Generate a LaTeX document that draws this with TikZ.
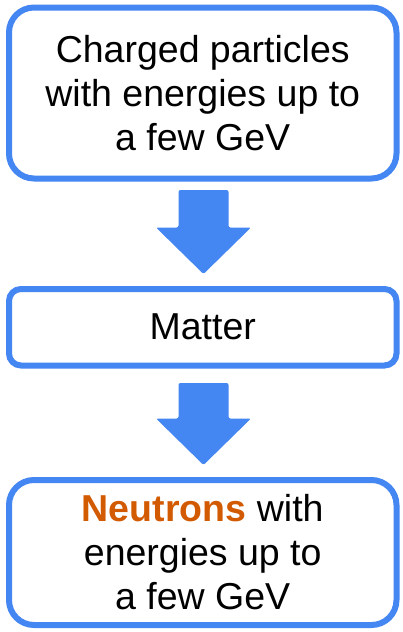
\documentclass[tikz,border=0pt]{standalone}
\usepackage{fontspec}
\setmainfont{Liberation Sans}
\usetikzlibrary{calc}
\definecolor{boxblue}{RGB}{68,134,242}
\definecolor{neutronorange}{RGB}{210,90,0}
\begin{document}
\begin{tikzpicture}[x=1pt,y=-1pt,
  box/.style={draw=boxblue, line width=6pt, rounded corners=#1, minimum width=387.5pt,
    align=center, font=\fontsize{37.5}{44}\selectfont, inner sep=0pt},
  box/.default=25pt,
  blockarrow/.style={fill=boxblue, rounded corners=2pt}]
\useasboundingbox (0,0) rectangle (402,632);
\node[box=25pt, minimum height=171pt] (b1) at (202.75,93)
  {Charged particles\\with energies up to\\a few GeV};
\node[box=12pt, minimum height=76.5pt] (b2) at (202.75,327.25) {Matter};
\node[box=25pt, minimum height=145pt] (b3) at (202.75,552.5)
  {\textcolor{neutronorange}{\bfseries Neutrons} with\\energies up to\\a few GeV};
% block arrows
\coordinate (a1s) at ($(b1.south)+(0.75,8.5)$);
\coordinate (a1t) at ($(b2.north)+(0.75,-12)$);
\fill[blockarrow] ($(a1s)+(-25,0)$) -- ($(a1s)+(25,0)$) -- ($(a1t)+(25,-46.5)$)
  -- ($(a1t)+(47.5,-46.5)$) -- (a1t) -- ($(a1t)+(-47.5,-46.5)$)
  -- ($(a1t)+(-25,-46.5)$) -- cycle;
\coordinate (a2s) at ($(b2.south)+(0.75,14.5)$);
\coordinate (a2t) at ($(b3.north)+(0.75,-12)$);
\fill[blockarrow] ($(a2s)+(-25,0)$) -- ($(a2s)+(25,0)$) -- ($(a2t)+(25,-46.5)$)
  -- ($(a2t)+(47.5,-46.5)$) -- (a2t) -- ($(a2t)+(-47.5,-46.5)$)
  -- ($(a2t)+(-25,-46.5)$) -- cycle;
\end{tikzpicture}
\end{document}
